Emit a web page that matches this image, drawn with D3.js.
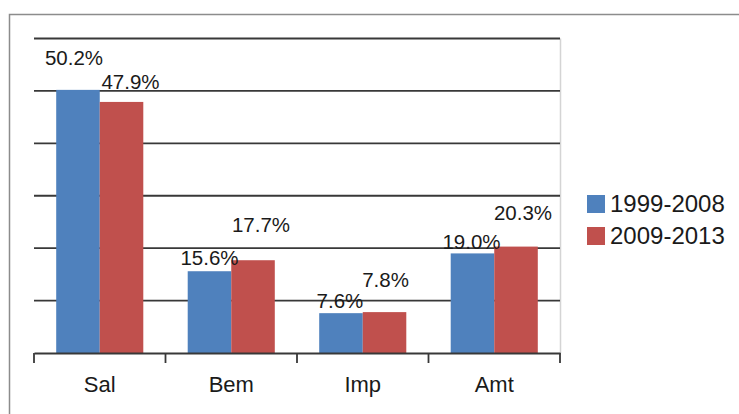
<!DOCTYPE html>
<html>
<head>
<meta charset="utf-8">
<script src="https://cdn.jsdelivr.net/npm/d3@7"></script>
<style>
  body { margin: 0; background: #fff; }
  svg { display: block; }
</style>
</head>
<body>
<svg id="chart" width="739" height="414"></svg>
<script>
// Categories and series
const categories = ["Sal", "Bem", "Imp", "Amt"];
const seriesNames = ["1999-2008", "2009-2013"];
const values1999 = [50.2, 15.6, 7.6, 19.0];
const values2009 = [47.9, 17.7, 7.8, 20.3];
const yTicks = [0, 10, 20, 30, 40, 50, 60];
const colors = ["#4F81BD", "#C0504D"];

// Label nudges (dx, dy in px from the bar's top centre)
const labelShift = [
  [[-4, -25], [9, -13]],
  [[0, -6], [8, -28]],
  [[-1, -5], [1, -25]],
  [[-1, -4], [7, -27]]
];

const svg = d3.select("#chart");
const W = 739, H = 414;
const FONT = "Liberation Sans, Arial, sans-serif";

// outer frame
svg.append("rect")
  .attr("x", 9.5).attr("y", 14.5)
  .attr("width", W + 20).attr("height", H + 20)
  .attr("fill", "none").attr("stroke", "#8c8c8c").attr("stroke-width", 1.5);

const plot = { left: 34, right: 560, top: 38.5, bottom: 353 };

const x0 = d3.scaleBand().domain(categories)
  .range([plot.left, plot.right]).paddingInner(0).paddingOuter(0);
const x1 = d3.scaleBand().domain(seriesNames)
  .range([0, x0.bandwidth()]).paddingOuter(0.51).paddingInner(0);
const y = d3.scaleLinear().domain([0, 60]).range([plot.bottom, plot.top]);

// plot right border
svg.append("line")
  .attr("x1", plot.right + 0.5).attr("x2", plot.right + 0.5)
  .attr("y1", plot.top).attr("y2", plot.bottom)
  .attr("stroke", "#d4d4d4").attr("stroke-width", 1.5);

// gridlines
svg.append("g").selectAll("line")
  .data(yTicks.filter(t => t > 0))
  .join("line")
  .attr("x1", plot.left).attr("x2", plot.right)
  .attr("y1", d => y(d)).attr("y2", d => y(d))
  .attr("stroke", "#383838").attr("stroke-width", 1.8);

// bars
const data = categories.map((c, i) => ({ cat: c, vals: [values1999[i], values2009[i]] }));
const groups = svg.append("g").selectAll("g")
  .data(data).join("g")
  .attr("transform", d => `translate(${x0(d.cat)},0)`);

groups.selectAll("rect")
  .data(d => d.vals.map((v, j) => ({ v, j })))
  .join("rect")
  .attr("x", d => x1(seriesNames[d.j]))
  .attr("width", x1.bandwidth())
  .attr("y", d => y(d.v))
  .attr("height", d => y(0) - y(d.v))
  .attr("fill", d => colors[d.j]);

// x axis
const xAxis = d3.axisBottom(x0).tickSize(0).tickPadding(0);
const gx = svg.append("g").attr("transform", `translate(0,${plot.bottom})`).call(xAxis);
gx.select(".domain").attr("stroke", "#383838").attr("stroke-width", 1.8);
gx.selectAll(".tick text")
  .attr("y", 39)
  .attr("dy", 0)
  .attr("font-family", FONT)
  .attr("font-size", 22)
  .attr("fill", "#1a1a1a");
// category boundary ticks
const boundaries = categories.map(c => x0(c)).concat([plot.right]);
svg.append("g").selectAll("line")
  .data(boundaries).join("line")
  .attr("x1", d => d).attr("x2", d => d)
  .attr("y1", plot.bottom).attr("y2", plot.bottom + 10)
  .attr("stroke", "#383838").attr("stroke-width", 1.8);

// value labels
groups.selectAll("text.val")
  .data((d, i) => d.vals.map((v, j) => ({ v, j, i })))
  .join("text")
  .attr("class", "val")
  .attr("x", d => x1(seriesNames[d.j]) + x1.bandwidth() / 2 + labelShift[d.i][d.j][0])
  .attr("y", d => y(d.v) + labelShift[d.i][d.j][1])
  .attr("text-anchor", "middle")
  .attr("font-family", FONT)
  .attr("font-size", 20.5)
  .attr("fill", "#1a1a1a")
  .text(d => d.v.toFixed(1) + "%");

// legend
const legend = svg.append("g").attr("transform", "translate(587,195)");
const items = legend.selectAll("g").data(seriesNames).join("g")
  .attr("transform", (d, i) => `translate(0,${i * 32})`);
items.append("rect")
  .attr("width", 18).attr("height", 18)
  .attr("fill", (d, i) => colors[i]);
items.append("text")
  .attr("x", 23).attr("y", 17)
  .attr("font-family", FONT)
  .attr("font-size", 24)
  .attr("fill", "#1a1a1a")
  .text(d => d);
</script>
</body>
</html>
